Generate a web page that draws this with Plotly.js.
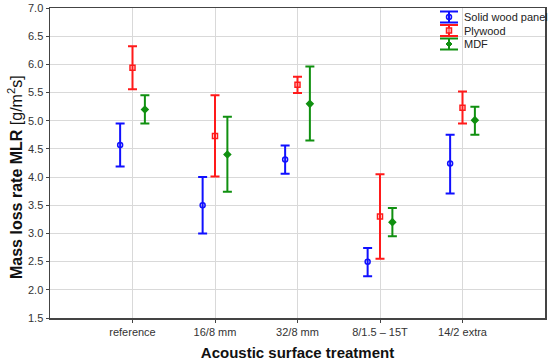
<!DOCTYPE html>
<html><head><meta charset="utf-8">
<script src="https://cdn.plot.ly/plotly-3.0.1.min.js"></script>
<style>html,body{margin:0;padding:0;background:#fff}#chart{width:550px;height:361px}</style>
</head><body><div id="chart"></div>
<script>
const categories = ["reference", "16/8 mm", "32/8 mm", "8/1.5 \u2013 15T", "14/2 extra"];
const seriesNames = ["Solid wood panel", "Plywood", "MDF"];
const solidMean = [4.57, 3.50, 4.31, 2.50, 4.24];
const solidUpper = [4.95, 4.00, 4.56, 2.74, 4.75];
const solidLower = [4.19, 3.00, 4.06, 2.24, 3.71];
const plyMean = [5.94, 4.73, 5.64, 3.30, 5.23];
const plyUpper = [6.32, 5.45, 5.78, 4.05, 5.52];
const plyLower = [5.56, 4.01, 5.49, 2.55, 4.95];
const mdfMean = [5.20, 4.40, 5.30, 3.20, 5.01];
const mdfUpper = [5.45, 5.07, 5.96, 3.45, 5.25];
const mdfLower = [4.95, 3.74, 4.65, 2.95, 4.75];
const yTicks = [1.5,2.0,2.5,3.0,3.5,4.0,4.5,5.0,5.5,6.0,6.5,7.0];

const colors = ["#1010ff", "#ff1a1a", "#109010"];
const symbols = ["circle-open", "square-open", "diamond"];
const offsets = [-0.15, 0, 0.15];
const means = [solidMean, plyMean, mdfMean];
const uppers = [solidUpper, plyUpper, mdfUpper];
const lowers = [solidLower, plyLower, mdfLower];

const traces = seriesNames.map((name, s) => ({
  type: "scatter", mode: "markers", name: name, showlegend: false,
  x: categories.map((c, i) => i + offsets[s]),
  y: means[s],
  marker: {color: colors[s], symbol: symbols[s], size: 5, line: {color: colors[s], width: 1.5}},
  error_y: {type: "data", symmetric: false,
    array: means[s].map((m, i) => uppers[s][i] - m),
    arrayminus: means[s].map((m, i) => m - lowers[s][i]),
    color: colors[s], thickness: 2, width: 4.5}
}));

// plot area in pixels (for legend placement)
const L = 50, R = 545, T = 8, B = 318;
const px = v => (v - L) / (R - L);
const py = v => (B - v) / (B - T);

const shapes = [];
const annotations = [];
const rowY = [17, 30.5, 44];
seriesNames.forEach((name, s) => {
  const cy = rowY[s], cx = 449, c = colors[s];
  const ln = {color: c, width: 2};
  shapes.push({type: "line", xref: "paper", yref: "paper", x0: px(cx), x1: px(cx), y0: py(cy - 5.5), y1: py(cy + 5.5), line: ln});
  shapes.push({type: "line", xref: "paper", yref: "paper", x0: px(cx - 9), x1: px(cx + 9), y0: py(cy - 5.5), y1: py(cy - 5.5), line: ln});
  shapes.push({type: "line", xref: "paper", yref: "paper", x0: px(cx - 9), x1: px(cx + 9), y0: py(cy + 5.5), y1: py(cy + 5.5), line: ln});
  if (s === 0) shapes.push({type: "circle", xref: "paper", yref: "paper", x0: px(cx - 2.5), x1: px(cx + 2.5), y0: py(cy - 2.5), y1: py(cy + 2.5), line: {color: c, width: 1.5}});
  if (s === 1) shapes.push({type: "rect", xref: "paper", yref: "paper", x0: px(cx - 2.5), x1: px(cx + 2.5), y0: py(cy - 2.5), y1: py(cy + 2.5), line: {color: c, width: 1.5}, fillcolor: "rgba(255,180,180,0.6)"});
  if (s === 2) shapes.push({type: "path", xref: "paper", yref: "paper",
    path: `M ${px(cx)} ${py(cy - 3)} L ${px(cx + 3)} ${py(cy)} L ${px(cx)} ${py(cy + 3)} L ${px(cx - 3)} ${py(cy)} Z`,
    line: {color: c, width: 1}, fillcolor: c});
  annotations.push({xref: "paper", yref: "paper", x: px(462), y: py(cy), xanchor: "left", yanchor: "middle",
    text: name, showarrow: false, font: {size: 11, color: "#222"}});
});
annotations.push({xref: "paper", yref: "paper", x: px(15), y: py(177), xanchor: "center", yanchor: "middle",
  textangle: -90, showarrow: false,
  text: "<b>Mass loss rate MLR</b> [g/m<sup>2</sup>s]", font: {size: 16, color: "#111"}});

const layout = {
  width: 550, height: 361,
  margin: {l: L, r: 550 - R, t: T, b: 361 - B},
  paper_bgcolor: "#fff", plot_bgcolor: "#fff",
  font: {family: "Liberation Sans, Arial, sans-serif", color: "#333", size: 11},
  showlegend: false,
  shapes: shapes, annotations: annotations,
  xaxis: {range: [-1, 5], tickvals: categories.map((c, i) => i), ticktext: categories,
    showgrid: true, gridcolor: "#d9d9d9", gridwidth: 1, zeroline: false,
    showline: true, linecolor: "#444", linewidth: 1.5, mirror: true,
    ticks: "outside", ticklen: 3, tickcolor: "#444",
    tickfont: {size: 11, color: "#333"},
    title: {text: "<b>Acoustic surface treatment</b>", font: {size: 15, color: "#111"}, standoff: 11}},
  yaxis: {range: [1.5, 7.0], tickvals: yTicks, ticktext: yTicks.map(v => v.toFixed(1)),
    showgrid: true, gridcolor: "#d9d9d9", gridwidth: 1, zeroline: false,
    showline: true, linecolor: "#444", linewidth: 1.5, mirror: true,
    ticks: "outside", ticklen: 3, tickcolor: "#444",
    tickfont: {size: 11, color: "#333"}}
};
Plotly.newPlot("chart", traces, layout, {displayModeBar: false, staticPlot: true});
</script></body></html>
